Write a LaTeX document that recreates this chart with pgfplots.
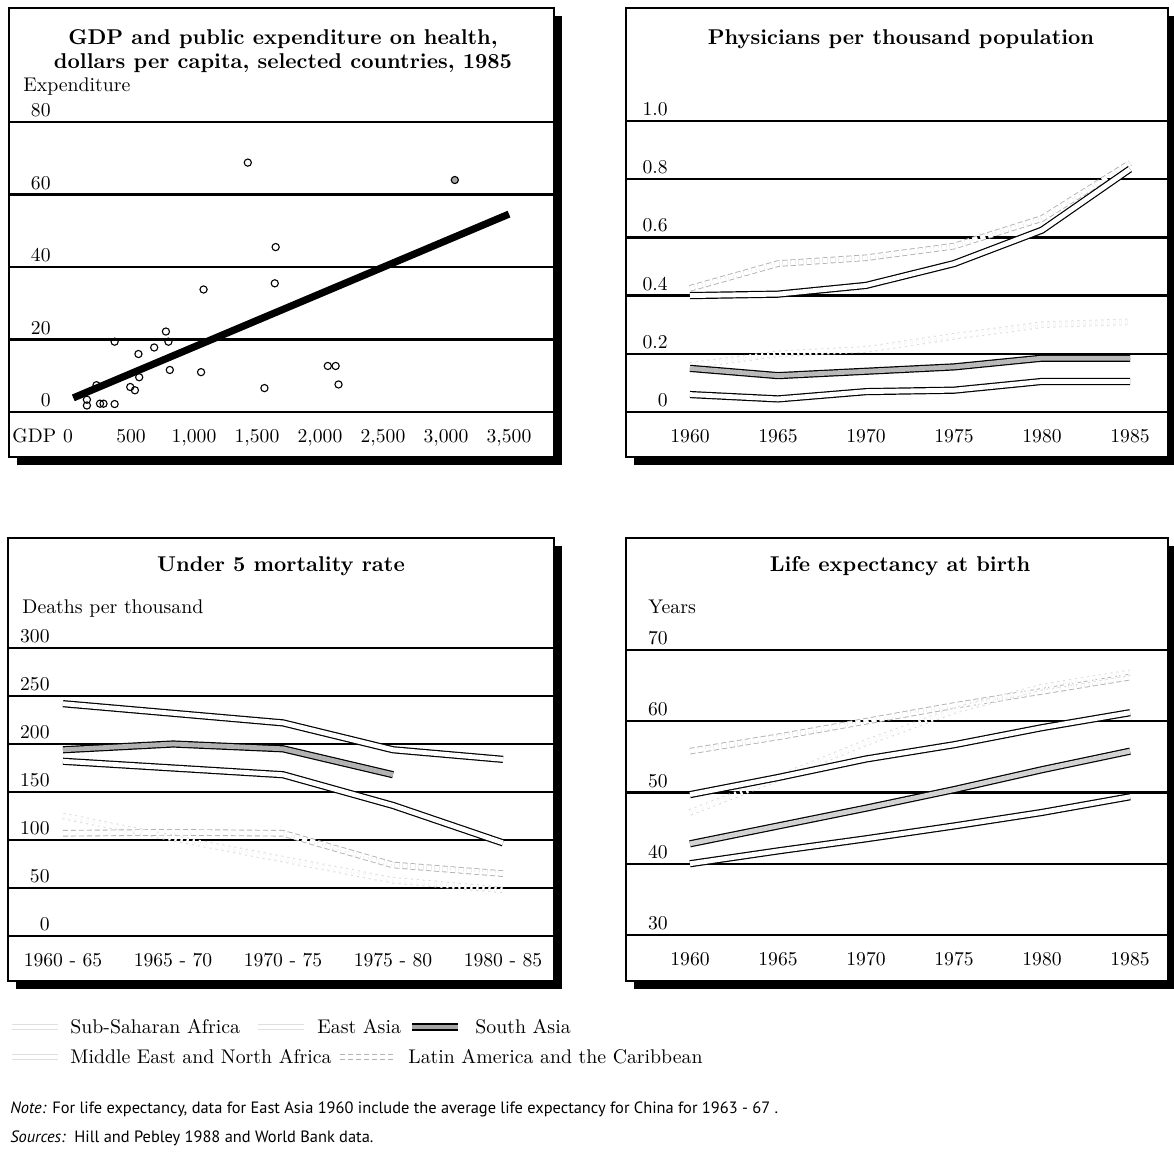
\documentclass[border=0pt]{standalone}
\usepackage{pgfplots}
\pgfplotsset{compat=1.18}
\usepackage{fontspec}
\newfontfamily\notefont{PT Sans}
\newcommand\titlefont{\fontsize{10.7}{12.5}\selectfont\bfseries}
\newcommand\labfont{\fontsize{9.9}{11}\selectfont}
\newcommand\tickfont{\fontsize{9.8}{11}\selectfont}
\begin{document}
\begin{tikzpicture}
\useasboundingbox (0,0) rectangle (587pt,-581pt);
\tikzset{
  tSSA/.style={draw=black, line width=0.6pt, double=white, double distance=2.4pt},
  tMENA/.style={draw=black, line width=0.6pt, double=white, double distance=2.4pt},
  tSA/.style={draw=black, line width=0.6pt, double=gray!55, double distance=2.4pt},
  tLA/.style={draw=gray!60, line width=0.45pt, dash pattern=on 2.5pt off 1.5pt, double=white, double distance=2.4pt},
  tEA/.style={draw=gray!30, line width=0.45pt, dash pattern=on 1pt off 2pt, double=white, double distance=2.4pt},
}
\pgfplotsset{
  panel/.style={
    scale only axis, anchor=north west,
    axis background/.style={fill=white},
    axis line style={line width=0.7pt},
    major tick length=0pt,
    ymajorgrids, major grid style={black, line width=1.2pt},
    yticklabel style={anchor=south east, xshift=21pt, yshift=2.3pt, inner sep=0pt, font=\tickfont},
    xticklabel style={anchor=base, yshift=7.5pt, inner sep=0pt, font=\tickfont},
  },
}
% drop shadows
\begin{scope}[x=0.5pt,y=-0.5pt]
\fill[black] (17,16) rectangle (562,465);
\fill[black] (634,16) rectangle (1180,465);
\fill[black] (16,546) rectangle (562,989);
\fill[black] (634,546) rectangle (1180,989);
\end{scope}

% Panel 1: GDP and health expenditure
\begin{axis}[panel, at={(4.5pt,-4pt)}, width=272.5pt, height=224.5pt,
  xmin=-468.3, xmax=3857.1, ymin=-12.41, ymax=111.45,
  xtick={0,500,1000,1500,2000,2500,3000,3500},
  xticklabels={0,500,{1,000},{1,500},{2,000},{2,500},{3,000},{3,500}},
  ytick={0,20,40,60,80}, yticklabels={0,20,40,60,80}]
\addplot[only marks, mark=o, mark size=1.8pt, mark options={line width=0.55pt}] coordinates {
 (1427,68.8) (1648,45.5) (1641,35.5) (1076,33.8) (777,22.2) (797,19.4)
 (370,19.4) (684,17.8) (559,16.0) (808,11.6) (1056,11.0) (2062,12.7)
 (2124,12.7) (2147,7.6) (1559,6.6) (565,9.6) (494,6.9) (531,6.0)
 (226,7.4) (150,3.4) (150,1.8) (254,2.3) (282,2.3) (370,2.2)};
\addplot[only marks, mark=*, mark size=1.8pt, mark options={line width=0.55pt, draw=black, fill=gray!70}] coordinates {(3070,64)};
\addplot[black, line width=3.6pt] coordinates {(42,3.9) (3500,54.6)};
\end{axis}

% Panel 2: Physicians
\begin{axis}[panel, at={(313pt,-4pt)}, width=271pt, height=224.5pt,
  xmin=1956.364, xmax=1987.159, ymin=-0.1546, ymax=1.3883,
  xtick={1960,1965,1970,1975,1980,1985},
  xticklabels={1960,1965,1970,1975,1980,1985},
  ytick={0,0.2,0.4,0.6,0.8,1.0}, yticklabels={0,0.2,0.4,0.6,0.8,1.0}]
\addplot[tEA] coordinates {(1960,0.16) (1965,0.20) (1970,0.215) (1975,0.26) (1980,0.30) (1985,0.31)};
\addplot[tLA] coordinates {(1960,0.425) (1965,0.51) (1970,0.53) (1975,0.57) (1980,0.665) (1985,0.855)};
\addplot[tMENA] coordinates {(1960,0.40) (1965,0.405) (1970,0.435) (1975,0.51) (1980,0.625) (1985,0.835)};
\addplot[tSA] coordinates {(1960,0.15) (1965,0.125) (1970,0.14) (1975,0.155) (1980,0.185) (1985,0.185)};
\addplot[tSSA] coordinates {(1960,0.06) (1965,0.045) (1970,0.07) (1975,0.075) (1980,0.105) (1985,0.105)};
\end{axis}

% Panel 3: Under 5 mortality
\begin{axis}[panel, at={(4pt,-269pt)}, width=273pt, height=221.5pt,
  xmin=-0.5, xmax=4.4636, ymin=-46.875, ymax=414.58,
  xtick={0,1,2,3,4},
  xticklabels={1960 - 65,1965 - 70,1970 - 75,1975 - 80,1980 - 85},
  ytick={0,50,100,150,200,250,300}, yticklabels={0,50,100,150,200,250,300}]
\addplot[tEA] coordinates {(0,125) (1,102) (2,80) (3,58) (4,48)};
\addplot[tLA] coordinates {(0,107) (1,108) (2,107) (3,74) (4,65)};
\addplot[tMENA] coordinates {(0,182) (1,175) (2,168) (3,136) (4,97)};
\addplot[tSA, double=gray!60] coordinates {(0,194) (1,200) (2,195) (3,168)};
\addplot[tSSA] coordinates {(0,242) (1,232) (2,222) (3,194) (4,184)};
\end{axis}

% Panel 4: Life expectancy
\begin{axis}[panel, at={(313pt,-269pt)}, width=271pt, height=221.5pt,
  xmin=1956.364, xmax=1987.159, ymin=23.54, ymax=85.72,
  xtick={1960,1965,1970,1975,1980,1985},
  xticklabels={1960,1965,1970,1975,1980,1985},
  ytick={30,40,50,60,70}, yticklabels={30,40,50,60,70}]
\addplot[tLA] coordinates {(1960,55.8) (1965,57.8) (1970,60.0) (1975,62.2) (1980,64.2) (1985,66.2)};
\addplot[tEA] coordinates {(1960,47.2) (1965,52.0) (1970,57.0) (1975,61.5) (1980,64.8) (1985,66.8)};
\addplot[tMENA] coordinates {(1960,49.7) (1965,52.1) (1970,54.7) (1975,56.7) (1980,59.1) (1985,61.2)};
\addplot[tSA, double=gray!35] coordinates {(1960,42.8) (1965,45.3) (1970,47.8) (1975,50.4) (1980,53.2) (1985,55.8)};
\addplot[tSSA] coordinates {(1960,40.0) (1965,41.8) (1970,43.5) (1975,45.3) (1980,47.2) (1985,49.4)};
\end{axis}

% texts
\begin{scope}[x=0.5pt,y=-0.5pt]
\node[anchor=base, font=\titlefont, inner sep=0pt] at (283,44) {GDP and public expenditure on health,};
\node[anchor=base, font=\titlefont, inner sep=0pt] at (283,68) {dollars per capita, selected countries, 1985};
\node[anchor=base west, font=\labfont, inner sep=0pt] at (23,91) {Expenditure};
\node[anchor=base west, font=\tickfont, inner sep=0pt] at (12,442) {GDP};
\node[anchor=base, font=\titlefont, inner sep=0pt] at (901,44) {Physicians per thousand population};
\node[anchor=base, font=\titlefont, inner sep=0pt] at (281,571) {Under 5 mortality rate};
\node[anchor=base west, font=\labfont, inner sep=0pt] at (22,613) {Deaths per thousand};
\node[anchor=base, font=\titlefont, inner sep=0pt] at (900,571) {Life expectancy at birth};
\node[anchor=base west, font=\labfont, inner sep=0pt] at (648,613) {Years};
% legend
\draw[draw=gray!25, line width=0.4pt, double=white, double distance=2.3pt] (12,1027) -- (58,1027);
\draw[draw=gray!25, line width=0.4pt, double=white, double distance=2.3pt] (258,1027) -- (304,1027);
\draw[tSA, double=gray!70] (412,1027) -- (458,1027);
\draw[draw=gray!25, line width=0.4pt, double=white, double distance=2.3pt] (12,1057) -- (58,1057);
\draw[tLA] (340,1057) -- (394,1057);
\node[anchor=base west, font=\labfont, inner sep=0pt] at (70,1033) {Sub-Saharan Africa};
\node[anchor=base west, font=\labfont, inner sep=0pt] at (317,1033) {East Asia};
\node[anchor=base west, font=\labfont, inner sep=0pt] at (475,1033) {South Asia};
\node[anchor=base west, font=\labfont, inner sep=0pt] at (70,1063) {Middle East and North Africa};
\node[anchor=base west, font=\labfont, inner sep=0pt] at (408,1063) {Latin America and the Caribbean};
\node[anchor=base west, font=\notefont\fontsize{8.2}{9}\selectfont, inner sep=0pt] at (10,1113) {\textit{Note:} For life expectancy, data for East Asia 1960 include the average life expectancy for China for 1963 - 67 .};
\node[anchor=base west, font=\notefont\fontsize{8.2}{9}\selectfont, inner sep=0pt] at (10,1142) {\textit{Sources:}\, Hill and Pebley 1988 and World Bank data.};
\end{scope}
\end{tikzpicture}
\end{document}
